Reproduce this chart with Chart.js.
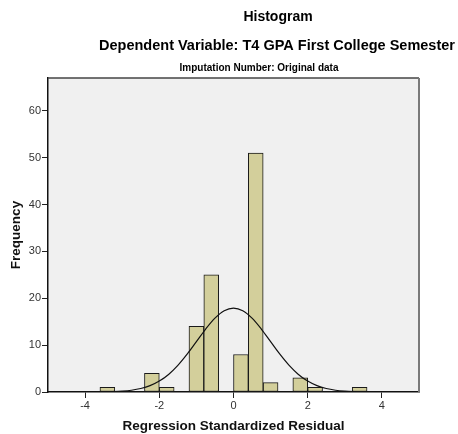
<!DOCTYPE html>
<html>
<head>
<meta charset="utf-8">
<title>Histogram</title>
<script src="https://cdn.jsdelivr.net/npm/chart.js@4/dist/chart.umd.min.js"></script>
<style>
  body { margin: 0; background: #fff; }
  #histChart { display: block; }
</style>
</head>
<body>
<canvas id="histChart" width="458" height="434"></canvas>
<script>
"use strict";

// residual bins (width 0.4) and their frequencies
const binCenters = [-3.4, -3.0, -2.6, -2.2, -1.8, -1.4, -1.0, -0.6, -0.2, 0.2, 0.6, 1.0, 1.4, 1.8, 2.2, 2.6, 3.0, 3.4];
const binCounts = [1, 0, 0, 4, 1, 0, 14, 25, 0, 8, 51, 2, 0, 3, 1, 0, 0, 1];

// normal curve overlay, read at steps of 0.25
const curveX = [-4, -3.75, -3.5, -3.25, -3, -2.75, -2.5, -2.25, -2, -1.75, -1.5, -1.25, -1, -0.75, -0.5, -0.25, 0,
    0.25, 0.5, 0.75, 1, 1.25, 1.5, 1.75, 2, 2.25, 2.5, 2.75, 3, 3.25, 3.5, 3.75, 4];
const curveY = [0.005, 0.01, 0.03, 0.08, 0.18, 0.38, 0.74, 1.35, 2.33, 3.75, 5.68, 8.07, 10.75, 13.43, 15.75, 17.34, 17.9,
    17.34, 15.75, 13.43, 10.75, 8.07, 5.68, 3.75, 2.33, 1.35, 0.74, 0.38, 0.18, 0.08, 0.03, 0.01, 0.005];

const xTicks = [-4, -2, 0, 2, 4];
const yTicks = [0, 10, 20, 30, 40, 50, 60];

const fontFamily = 'Arial, "Liberation Sans", sans-serif';

const ctxHist = document.getElementById("histChart");

// plot background, grey frame on top/right and the three heading lines
const frameAndTitles = {
    id: "frameAndTitles",
    beforeDraw(chart) {
        const { ctx, chartArea: a } = chart;
        ctx.save();
        ctx.fillStyle = "#f0f0f0";
        ctx.fillRect(a.left, a.top, a.right - a.left, a.bottom - a.top);
        ctx.restore();
    },
    afterDraw(chart) {
        const { ctx, chartArea: a } = chart;
        ctx.save();
        ctx.strokeStyle = "#444";
        ctx.lineWidth = 1.5;
        ctx.beginPath();
        ctx.moveTo(a.left, a.top);
        ctx.lineTo(a.right, a.top);
        ctx.stroke();
        ctx.strokeStyle = "#7a7a7a";
        ctx.lineWidth = 2;
        ctx.beginPath();
        ctx.moveTo(a.right, a.top);
        ctx.lineTo(a.right, a.bottom);
        ctx.stroke();

        ctx.fillStyle = "#000";
        ctx.textAlign = "center";
        ctx.textBaseline = "middle";
        ctx.font = `bold 14px ${fontFamily}`;
        ctx.fillText("Histogram", 278, 17);
        ctx.font = `bold 14.5px ${fontFamily}`;
        ctx.fillText("Dependent Variable: T4 GPA First College Semester", 277, 46);
        ctx.font = `bold 10px ${fontFamily}`;
        ctx.fillText("Imputation Number: Original data", 259, 68);
        ctx.restore();
    },
};

const histChart = new Chart(ctxHist, {
    type: "bar",
    data: {
        datasets: [
            {
                type: "line",
                label: "Normal",
                data: curveX.map((x, i) => ({ x: x, y: curveY[i] })),
                borderColor: "#111",
                borderWidth: 1.2,
                pointRadius: 0,
                cubicInterpolationMode: "monotone",
                fill: false,
                order: 0,
            },
            {
                label: "Frequency",
                data: binCenters.map((x, i) => ({ x: x, y: binCounts[i] || null })),
                backgroundColor: "#d3cf9b",
                borderColor: "#1a1a1a",
                borderWidth: 1,
                borderSkipped: false,
                barPercentage: 1,
                categoryPercentage: 1,
                order: 1,
            },
        ],
    },
    options: {
        responsive: false,
        animation: false,
        devicePixelRatio: 1,
        layout: {
            padding: { top: 78, right: 39, left: 0, bottom: 0 },
        },
        plugins: {
            legend: { display: false },
            tooltip: { enabled: false },
        },
        scales: {
            x: {
                type: "linear",
                min: -5,
                max: 5,
                offset: false,
                afterBuildTicks: (scale) => {
                    scale.ticks = xTicks.map((v) => ({ value: v }));
                },
                afterFit: (scale) => {
                    scale.height = 42;
                },
                grid: {
                    offset: false,
                    drawOnChartArea: false,
                    drawTicks: true,
                    tickLength: 6,
                    color: "#222",
                },
                border: { display: true, color: "#111", width: 1.5 },
                ticks: {
                    color: "#333",
                    padding: 1,
                    maxRotation: 0,
                    font: { family: fontFamily, size: 11 },
                },
                title: {
                    display: true,
                    text: "Regression Standardized Residual",
                    color: "#111",
                    padding: { top: 0, bottom: 0 },
                    font: { family: fontFamily, size: 13.5, weight: "bold" },
                },
            },
            y: {
                min: 0,
                max: 67,
                afterBuildTicks: (scale) => {
                    scale.ticks = yTicks.map((v) => ({ value: v }));
                },
                afterFit: (scale) => {
                    scale.width = 48;
                },
                grid: {
                    drawOnChartArea: false,
                    drawTicks: true,
                    tickLength: 6,
                    color: "#222",
                },
                border: { display: true, color: "#111", width: 1.5 },
                ticks: {
                    color: "#333",
                    padding: 1,
                    font: { family: fontFamily, size: 11 },
                },
                title: {
                    display: true,
                    text: "Frequency",
                    color: "#111",
                    padding: { top: 8, bottom: 0 },
                    font: { family: fontFamily, size: 13.5, weight: "bold" },
                },
            },
        },
    },
    plugins: [frameAndTitles],
});
</script>
</body>
</html>
